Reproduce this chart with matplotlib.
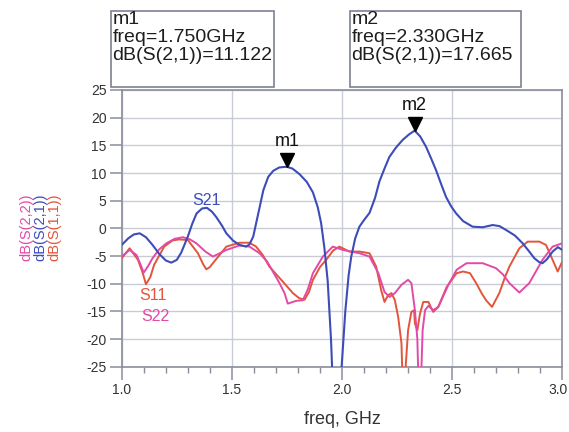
import matplotlib
matplotlib.use("Agg")
import matplotlib.pyplot as plt
from matplotlib.patches import Rectangle
from matplotlib.transforms import offset_copy, ScaledTranslation
from matplotlib.ticker import MultipleLocator

plt.rcParams['font.family'] = ['Liberation Sans', 'DejaVu Sans']

# ---------------- data ----------------
s21_freq = [1.000, 1.030, 1.055, 1.082, 1.110, 1.140, 1.170, 1.200, 1.225, 1.250,
            1.270, 1.300, 1.320, 1.340, 1.365, 1.387, 1.410, 1.430, 1.455, 1.475,
            1.505, 1.535, 1.565, 1.580, 1.597, 1.620, 1.643, 1.665, 1.688, 1.715,
            1.740, 1.750, 1.775, 1.807, 1.840, 1.868, 1.890, 1.905, 1.920, 1.935,
            1.950, 1.960, 1.975, 1.990, 2.000, 2.015, 2.030, 2.042, 2.060, 2.079,
            2.100, 2.125, 2.150, 2.170, 2.195, 2.215, 2.245, 2.276, 2.305, 2.330,
            2.355, 2.382, 2.405, 2.427, 2.450, 2.472, 2.495, 2.518, 2.550, 2.593,
            2.639, 2.684, 2.715, 2.745, 2.785, 2.820, 2.850, 2.873, 2.895, 2.910,
            2.930, 2.956, 2.980, 3.000]
s21_db = [-3.0, -1.8, -1.1, -0.9, -1.6, -3.0, -4.6, -5.8, -6.2, -5.7,
          -4.4, -1.5, 0.8, 2.7, 3.6, 3.7, 3.0, 2.0, 0.5, -0.9,
          -2.2, -3.0, -3.3, -2.9, -1.5, 2.7, 6.9, 9.3, 10.4, 11.0,
          11.1, 11.122, 10.8, 9.8, 8.4, 6.5, 3.8, 1.0, -3.5, -9.5,
          -20.0, -30.0, -45.0, -30.0, -24.0, -15.0, -8.5, -5.1, -1.8, 0.3,
          1.5, 2.8, 5.5, 8.5, 11.0, 12.9, 14.6, 16.0, 17.0, 17.665,
          16.6, 14.7, 12.6, 10.5, 8.0, 5.7, 4.0, 2.7, 1.3, 0.3,
          0.2, 0.6, 0.4, -0.3, -1.3, -2.7, -4.2, -5.4, -6.1, -6.3,
          -5.6, -4.2, -3.4, -3.9]

s11_freq = [1.000, 1.036, 1.074, 1.095, 1.110, 1.130, 1.147, 1.193, 1.230, 1.260,
            1.300, 1.346, 1.370, 1.384, 1.400, 1.420, 1.475, 1.535, 1.580, 1.610,
            1.640, 1.670, 1.724, 1.777, 1.805, 1.830, 1.850, 1.868, 1.900, 1.928,
            1.960, 1.988, 2.034, 2.080, 2.125, 2.155, 2.178, 2.193, 2.209, 2.225,
            2.240, 2.255, 2.270, 2.280, 2.289, 2.300, 2.315, 2.327, 2.331, 2.342,
            2.354, 2.369, 2.392, 2.414, 2.437, 2.475, 2.520, 2.550, 2.581, 2.609,
            2.635, 2.654, 2.681, 2.714, 2.740, 2.760, 2.805, 2.843, 2.896, 2.926,
            2.956, 2.979, 3.000]
s11_db = [-5.4, -3.6, -5.7, -8.0, -10.1, -8.8, -6.6, -3.3, -2.2, -2.0,
          -2.1, -4.5, -6.5, -7.4, -7.0, -6.0, -3.3, -2.6, -2.6, -3.3,
          -4.8, -6.9, -9.3, -11.7, -12.6, -12.9, -11.5, -9.3, -7.0, -5.7,
          -4.0, -3.3, -4.2, -4.2, -4.5, -6.9, -11.2, -13.3, -12.1, -11.7,
          -13.0, -16.0, -20.8, -35.0, -25.0, -18.4, -15.1, -14.8, -17.2, -18.4,
          -15.4, -13.3, -13.3, -15.1, -14.2, -10.6, -8.1, -7.8, -8.1, -9.9,
          -11.8, -13.0, -14.2, -11.7, -8.8, -6.9, -3.6, -2.4, -2.4, -3.0,
          -5.7, -7.8, -6.0]

s22_freq = [1.000, 1.036, 1.067, 1.085, 1.100, 1.120, 1.140, 1.170, 1.203, 1.240,
            1.278, 1.310, 1.339, 1.380, 1.414, 1.440, 1.475, 1.535, 1.580, 1.626,
            1.660, 1.686, 1.715, 1.739, 1.754, 1.792, 1.822, 1.845, 1.868, 1.913,
            1.958, 2.004, 2.079, 2.125, 2.165, 2.193, 2.216, 2.240, 2.270, 2.300,
            2.315, 2.331, 2.342, 2.352, 2.360, 2.366, 2.377, 2.392, 2.414, 2.437,
            2.483, 2.520, 2.565, 2.639, 2.699, 2.730, 2.760, 2.805, 2.850, 2.880,
            2.910, 2.956, 3.000]
s22_db = [-5.1, -3.9, -4.8, -6.5, -8.0, -6.8, -5.4, -3.8, -2.7, -1.9,
          -1.6, -2.0, -2.7, -4.2, -5.1, -4.6, -3.9, -3.1, -3.3, -4.5,
          -6.0, -7.8, -9.8, -11.7, -13.6, -13.1, -13.0, -11.0, -8.1, -5.1,
          -3.3, -3.9, -4.5, -5.1, -8.1, -11.5, -12.4, -11.7, -10.2, -9.3,
          -9.9, -14.8, -20.0, -35.0, -26.0, -18.4, -14.8, -14.0, -14.8, -14.2,
          -10.2, -7.5, -6.3, -6.3, -7.2, -8.3, -9.9, -11.6, -9.9, -7.8,
          -5.7, -3.3, -2.7]

m1_freq, m1_db = 1.750, 11.122
m2_freq, m2_db = 2.330, 17.665
marker_names = ["m1", "m2"]

x_ticks = [1.0, 1.5, 2.0, 2.5, 3.0]
x_tick_labels = ["1.0", "1.5", "2.0", "2.5", "3.0"]
y_ticks = [25, 20, 15, 10, 5, 0, -5, -10, -15, -20, -25]

# ---------------- colours ----------------
c21 = "#3d4cb8"
c11 = "#e2553a"
c22 = "#e24aa8"
gridc = "#c9ccd4"
spinec = "#8a8e9c"
textc = "#333333"

W, H = 569, 432
fig = plt.figure(figsize=(W / 100, H / 100), dpi=100)
ax = fig.add_axes([121.7 / W, 1 - 366.7 / H, (562.3 - 121.7) / W, (366.7 - 90) / H])

ax.plot(s11_freq, s11_db, color=c11, lw=1.4, zorder=3)
ax.plot(s22_freq, s22_db, color=c22, lw=1.4, zorder=3)
ax.plot(s21_freq, s21_db, color=c21, lw=1.5, zorder=4)

ax.set_xlim(1.0, 3.0)
ax.set_ylim(-25, 25)
ax.set_xticks(x_ticks)
ax.set_xticklabels(x_tick_labels)
ax.xaxis.set_minor_locator(MultipleLocator(0.1))
ax.set_yticks(y_ticks)
ax.set_yticklabels([str(v) for v in y_ticks])
ax.grid(True, which='major', color=gridc, lw=1.0)
ax.set_axisbelow(True)
for s in ax.spines.values():
    s.set_color(spinec)
    s.set_linewidth(1.2)
ax.tick_params(axis='both', which='major', direction='out', length=9, width=1.1,
               color=spinec, labelsize=10, labelcolor=textc, pad=2)
ax.tick_params(axis='x', which='major', pad=3)
ax.tick_params(axis='x', which='minor', direction='out', length=4, width=1.0, color=spinec)
ax.tick_params(axis='y', which='minor', length=0)
ax.set_xlabel("freq, GHz", fontsize=13, color=textc, labelpad=10)

# keep last x tick label inside the canvas
last = ax.get_xticklabels()[-1]
last.set_transform(last.get_transform() + ScaledTranslation(-4 / 100, 0, fig.dpi_scale_trans))

# curve labels
ax.text(1.383, 5.1, "S21", color=c21, fontsize=11.5, ha='center', va='center')
ax.text(1.142, -12.05, "S11", color=c11, fontsize=11.5, ha='center', va='center')
ax.text(1.151, -15.9, "S22", color=c22, fontsize=11.5, ha='center', va='center')

# markers
tri_tr = offset_copy(ax.transData, fig=fig, x=0, y=5, units='points')
lab_tr = offset_copy(ax.transData, fig=fig, x=0, y=18, units='points')
for name, f, d in zip(marker_names, [m1_freq, m2_freq], [m1_db, m2_db]):
    ax.plot([f], [d], marker='v', color='black', markersize=10, transform=tri_tr,
            zorder=6, clip_on=False)
    ax.text(f, d, name, transform=lab_tr, ha='center', va='center', fontsize=13,
            color='#111111', zorder=6)

# marker readout boxes
boxes = [(111, 274, "m1\nfreq=%.3fGHz\ndB(S(2,1))=%.3f" % (m1_freq, m1_db)),
         (350, 521, "m2\nfreq=%.3fGHz\ndB(S(2,1))=%.3f" % (m2_freq, m2_db))]
for x0, x1, txt in boxes:
    fig.patches.append(Rectangle((x0 / W, 1 - 87 / H), (x1 - x0) / W, 76 / H,
                                 transform=fig.transFigure, fill=False,
                                 edgecolor="#7d8290", lw=1.2))
    fig.text((x0 + 1.5) / W, 1 - 11 / H, txt, ha='left', va='top', fontsize=14,
             color='#1e1e1e', linespacing=1.08)

# y labels (three rotated, coloured)
for xp, lab, col in [(26, "dB(S(2,2))", c22), (40, "dB(S(2,1))", c21), (54, "dB(S(1,1))", c11)]:
    fig.text(xp / W, 1 - 227 / H, lab, rotation=90, ha='center', va='center',
             fontsize=10.5, color=col)

fig.savefig("out.png", dpi=100)
